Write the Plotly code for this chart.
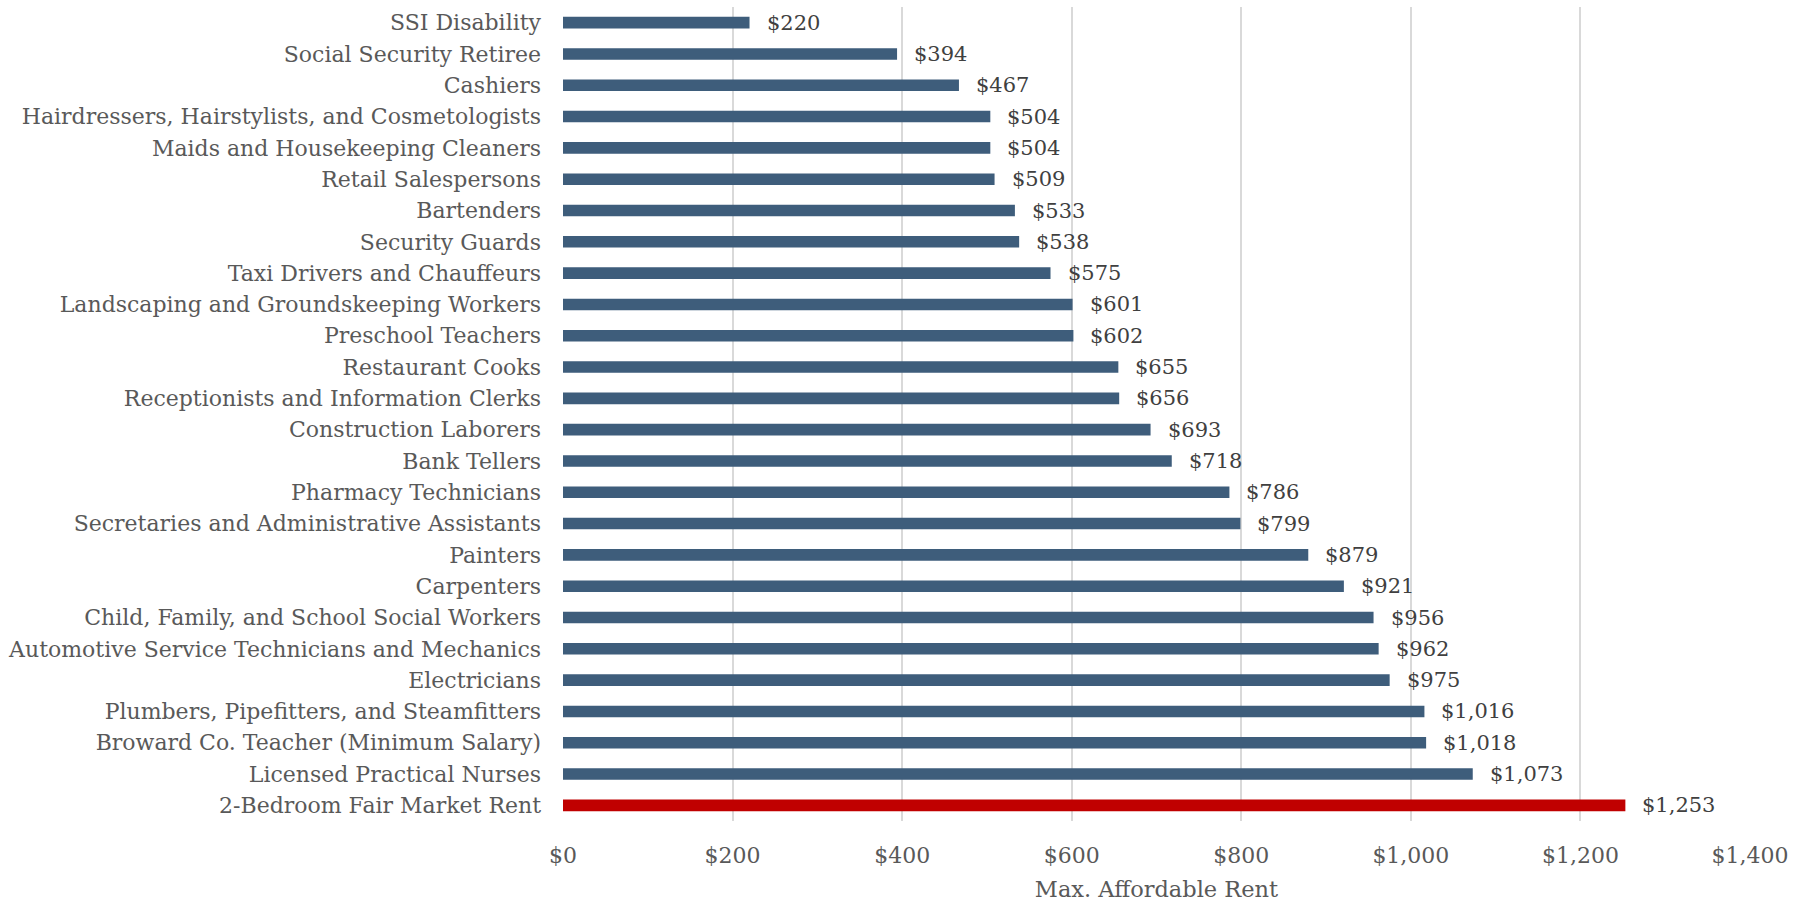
import plotly.graph_objects as go

categories = [
    "SSI Disability",
    "Social Security Retiree",
    "Cashiers",
    "Hairdressers, Hairstylists, and Cosmetologists",
    "Maids and Housekeeping Cleaners",
    "Retail Salespersons",
    "Bartenders",
    "Security Guards",
    "Taxi Drivers and Chauffeurs",
    "Landscaping and Groundskeeping Workers",
    "Preschool Teachers",
    "Restaurant Cooks",
    "Receptionists and Information Clerks",
    "Construction Laborers",
    "Bank Tellers",
    "Pharmacy Technicians",
    "Secretaries and Administrative Assistants",
    "Painters",
    "Carpenters",
    "Child, Family, and School Social Workers",
    "Automotive Service Technicians and Mechanics",
    "Electricians",
    "Plumbers, Pipefitters, and Steamfitters",
    "Broward Co. Teacher (Minimum Salary)",
    "Licensed Practical Nurses",
    "2-Bedroom Fair Market Rent",
]
values = [220, 394, 467, 504, 504, 509, 533, 538, 575, 601, 602, 655, 656, 693,
          718, 786, 799, 879, 921, 956, 962, 975, 1016, 1018, 1073, 1253]
highlight = "2-Bedroom Fair Market Rent"

x_ticks = [0, 200, 400, 600, 800, 1000, 1200, 1400]
x_ticklabels = ["$0", "$200", "$400", "$600", "$800", "$1,000", "$1,200", "$1,400"]
x_title = "Max. Affordable Rent"

FONT = "DejaVu Serif"
BLUE = "#3E5D7B"
RED = "#C00000"
GRAY = "#595959"

colors = [RED if c == highlight else BLUE for c in categories]

fig = go.Figure()
fig.add_trace(go.Bar(
    x=values, y=categories, orientation="h",
    marker=dict(color=colors, line=dict(width=0)),
    width=0.37,
    hoverinfo="x+y",
))

for c, v in zip(categories, values):
    fig.add_annotation(
        x=v, y=c, xref="x", yref="y",
        text=f"${v:,}", showarrow=False,
        xanchor="left", yanchor="middle", xshift=15,
        font=dict(family=FONT, size=21, color="#404040"),
    )

fig.update_layout(
    width=1808, height=902,
    margin=dict(l=563, r=58, t=7, b=81, autoexpand=False),
    paper_bgcolor="white", plot_bgcolor="white",
    showlegend=False,
    font=dict(family=FONT, color=GRAY, size=22),
)
fig.update_xaxes(
    range=[0, 1400], tickvals=x_ticks, ticktext=x_ticklabels,
    showgrid=True, gridcolor="#D9D9D9", gridwidth=1.5,
    zeroline=False, showline=False,
    ticks="", ticklabelstandoff=19,
    tickfont=dict(family=FONT, size=22, color=GRAY),
    title=dict(text=x_title, font=dict(family=FONT, size=22.5, color=GRAY), standoff=15),
    fixedrange=True,
)
fig.update_yaxes(
    categoryorder="array", categoryarray=categories, autorange="reversed",
    showgrid=False, showline=False, zeroline=False,
    ticks="", ticklabelstandoff=21,
    tickfont=dict(family=FONT, size=22, color=GRAY),
    fixedrange=True,
)

fig.write_html(
    "out.html",
    config={"displayModeBar": False},
    post_script="document.body.style.margin='0';document.body.style.overflow='hidden';",
)
